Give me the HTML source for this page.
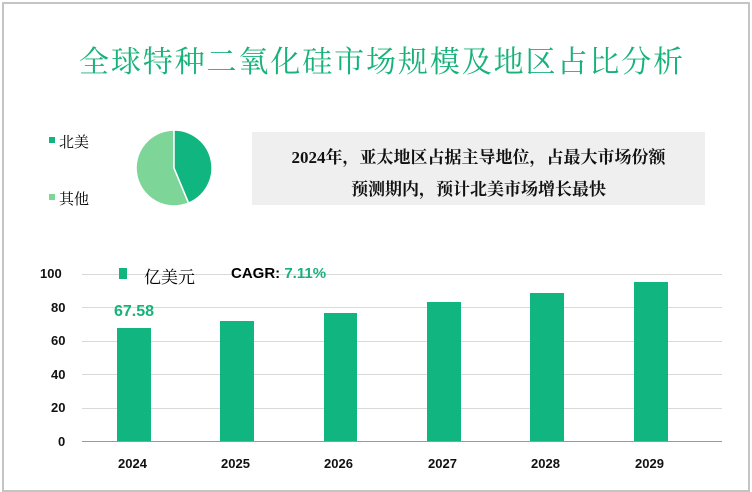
<!DOCTYPE html>
<html><head><meta charset="utf-8"><style>
body{margin:0;background:#fff;}
#c{position:relative;width:752px;height:492px;overflow:hidden;font-family:"Liberation Sans","Noto Sans CJK SC",sans-serif;}
.frame{position:absolute;left:2px;top:2px;width:744px;height:486px;border:2px solid #c4c4c4;}
.title{position:absolute;left:0;width:764px;top:37px;text-align:center;font-family:"Liberation Serif","Noto Serif CJK SC",serif;font-size:30px;color:#17b27a;letter-spacing:1.9px;}
.box{position:absolute;left:252px;top:132px;width:453px;height:73px;background:#efefef;text-align:center;font-family:"Liberation Serif","Noto Serif CJK SC",serif;font-weight:bold;font-size:17px;line-height:32px;padding-top:10px;box-sizing:border-box;color:#111;}
.t{position:absolute;font-size:13px;font-weight:bold;color:#111;}
</style></head><body><div id="c">
<div class="frame"></div>
<div class="title">全球特种二氧化硅市场规模及地区占比分析</div>
<div style="position:absolute;left:49px;top:137px;width:6px;height:6px;background:#10b580"></div>
<div style="position:absolute;left:59px;top:131px;font-size:15px;font-family:'Liberation Serif','Noto Serif CJK SC',serif;">北美</div>
<div style="position:absolute;left:49px;top:194px;width:6px;height:6px;background:#7dd598"></div>
<div style="position:absolute;left:59px;top:188px;font-size:15px;font-family:'Liberation Serif','Noto Serif CJK SC',serif;">其他</div>
<div class="box">2024年，亚太地区占据主导地位，占最大市场份额<br>预测期内，预计北美市场增长最快</div>
<svg style="position:absolute;left:0;top:0" width="752" height="492">
<g transform="translate(174,168)">
<path d="M0,0 L0,-38 A38,38 0 1,0 14.6,35.1 Z" fill="#7dd598" stroke="#fff" stroke-width="1.5"/>
<path d="M0,0 L0,-38 A38,38 0 0,1 14.6,35.1 Z" fill="#10b580" stroke="#fff" stroke-width="1.5"/>
</g>
<g stroke="#d9d9d9" stroke-width="1">
<line x1="82" x2="722" y1="274.5" y2="274.5"/><line x1="82" x2="722" y1="307.5" y2="307.5"/>
<line x1="82" x2="722" y1="341.5" y2="341.5"/><line x1="82" x2="722" y1="374.5" y2="374.5"/>
<line x1="82" x2="722" y1="408.5" y2="408.5"/>
</g>
<g fill="#10b580">
<rect x="117" y="328" width="34" height="113"/>
<rect x="220" y="321" width="34" height="120"/>
<rect x="324" y="313" width="33" height="128"/>
<rect x="427" y="302" width="34" height="139"/>
<rect x="530" y="293" width="34" height="148"/>
<rect x="634" y="282" width="34" height="159"/>
</g>
<line x1="82" x2="722" y1="441.5" y2="441.5" stroke="#999" stroke-width="1"/>
<rect x="119" y="268" width="8" height="11" fill="#10b580"/>
</svg>
<div class="t" style="left:40px;top:266px;">100</div>
<div class="t" style="left:51px;top:300px;">80</div>
<div class="t" style="left:51px;top:333px;">60</div>
<div class="t" style="left:51px;top:367px;">40</div>
<div class="t" style="left:51px;top:400px;">20</div>
<div class="t" style="left:58px;top:434px;">0</div>
<div style="position:absolute;left:144px;top:263px;font-size:17px;font-family:'Liberation Serif','Noto Serif CJK SC',serif;">亿美元</div>
<div style="position:absolute;left:231px;top:265px;font-size:15px;font-weight:bold;">CAGR: <span style="color:#17b27a">7.11%</span></div>
<div style="position:absolute;left:114px;top:303px;font-size:16px;font-weight:bold;color:#17b27a;">67.58</div>
<div class="t" style="left:118px;top:456px;">2024</div>
<div class="t" style="left:221px;top:456px;">2025</div>
<div class="t" style="left:324px;top:456px;">2026</div>
<div class="t" style="left:428px;top:456px;">2027</div>
<div class="t" style="left:531px;top:456px;">2028</div>
<div class="t" style="left:635px;top:456px;">2029</div>
</div></body></html>
